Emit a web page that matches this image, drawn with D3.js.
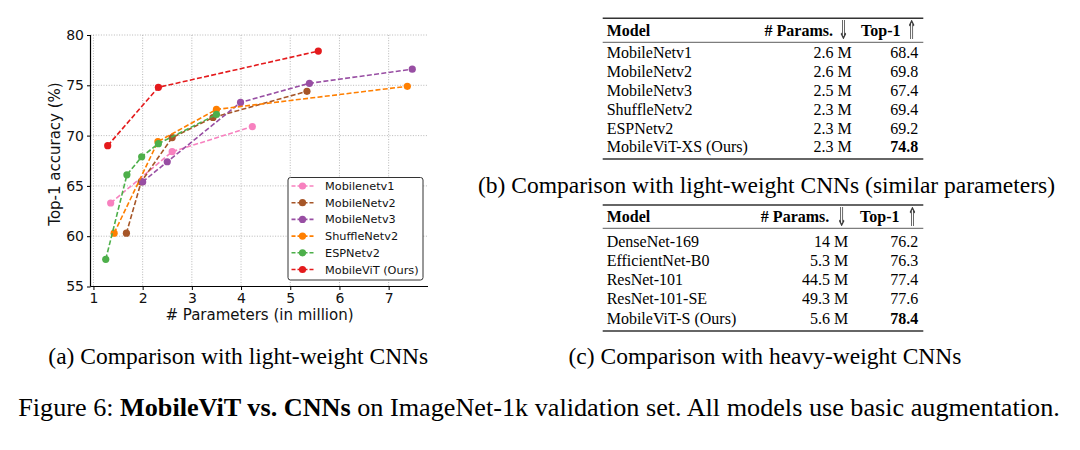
<!DOCTYPE html>
<html><head><meta charset="utf-8">
<script src="https://cdn.jsdelivr.net/npm/d3@7/dist/d3.min.js"></script>
<style>body{margin:0;background:#fff} svg{display:block}</style>
</head><body><svg id="fig" width="1080" height="450"></svg>
<script>
// ---------- data ----------
const seriesNames = ["Mobilenetv1","MobileNetv2","MobileNetv3","ShuffleNetv2","ESPNetv2","MobileViT (Ours)"];
const seriesColors = ["#f781bf","#a65628","#984ea3","#ff7f00","#4daf4a","#e41a1c"];
const mobilenetv1Params = [1.35, 2.6, 4.23];
const mobilenetv1Top1   = [63.3, 68.4, 70.9];
const mobilenetv2Params = [1.67, 1.97, 2.6, 3.43, 5.34];
const mobilenetv2Top1   = [60.3, 65.4, 69.8, 71.8, 74.4];
const mobilenetv3Params = [2.0, 2.5, 3.99, 5.39, 7.48];
const mobilenetv3Top1   = [65.4, 67.4, 73.3, 75.2, 76.6];
const shufflenetv2Params = [1.42, 2.31, 3.5, 7.38];
const shufflenetv2Top1   = [60.3, 69.4, 72.6, 74.9];
const espnetv2Params = [1.25, 1.68, 1.98, 2.32, 3.5];
const espnetv2Top1   = [57.7, 66.1, 67.9, 69.2, 72.1];
const mobilevitParams = [1.29, 2.32, 5.57];
const mobilevitTop1   = [69.0, 74.8, 78.4];
const xTicks = [1,2,3,4,5,6,7];
const yTicks = [55,60,65,70,75,80];
const xLabel = "# Parameters (in million)";
const yLabel = "Top-1 accuracy (%)";

const tableHeader = ["Model", "# Params.", "Top-1"];
const tableBModels = ["MobileNetv1","MobileNetv2","MobileNetv3","ShuffleNetv2","ESPNetv2","MobileViT-XS (Ours)"];
const tableBParams = ["2.6 M","2.6 M","2.5 M","2.3 M","2.3 M","2.3 M"];
const tableBTop1   = ["68.4","69.8","67.4","69.4","69.2","74.8"];
const tableCModels = ["DenseNet-169","EfficientNet-B0","ResNet-101","ResNet-101-SE","MobileViT-S (Ours)"];
const tableCParams = ["14 M","5.3 M","44.5 M","49.3 M","5.6 M"];
const tableCTop1   = ["76.2","76.3","77.4","77.6","78.4"];

const captionA = "(a) Comparison with light-weight CNNs";
const captionB = "(b) Comparison with light-weight CNNs (similar parameters)";
const captionC = "(c) Comparison with heavy-weight CNNs";
const figCaptionParts = [["Figure 6: ", false], ["MobileViT vs. CNNs", true], [" on ImageNet-1k validation set. All models use basic augmentation.", false]];

const seriesX = [mobilenetv1Params, mobilenetv2Params, mobilenetv3Params, shufflenetv2Params, espnetv2Params, mobilevitParams];
const seriesY = [mobilenetv1Top1, mobilenetv2Top1, mobilenetv3Top1, shufflenetv2Top1, espnetv2Top1, mobilevitTop1];
const series = seriesNames.map((n,i)=>({name:n, color:seriesColors[i], pts: seriesX[i].map((x,j)=>({x, y:seriesY[i][j]}))}));

// ---------- chart ----------
const svg = d3.select("#fig");
const sans = "DejaVu Sans";
const serif = "Liberation Serif";
const defs = svg.append("defs");
const gray = defs.append("filter").attr("id", "gray").attr("x", "-50%").attr("y", "-50%").attr("width", "200%").attr("height", "200%");
gray.append("feColorMatrix").attr("type", "saturate").attr("values", 0);

const x = d3.scaleLinear().domain([0.94, 7.8]).range([90.5, 428]);
const y = d3.scaleLinear().domain([55, 80]).range([286.5, 35]);

const g = svg.append("g");
// grid
g.append("g").selectAll("line").data(xTicks).join("line")
  .attr("x1", d=>x(d)).attr("x2", d=>x(d)).attr("y1", y(80)).attr("y2", y(55))
  .attr("stroke", "#b0b0b0").attr("stroke-width", 0.9).attr("stroke-dasharray", "1,1.6");
g.append("g").selectAll("line").data(yTicks).join("line")
  .attr("x1", x.range()[0]).attr("x2", x.range()[1]).attr("y1", d=>y(d)).attr("y2", d=>y(d))
  .attr("stroke", "#b0b0b0").attr("stroke-width", 0.9).attr("stroke-dasharray", "1,1.6");

// axes
const xAxis = d3.axisBottom(x).tickValues(xTicks).tickSize(3.5).tickPadding(3).tickFormat(d3.format("d"));
const yAxis = d3.axisLeft(y).tickValues(yTicks).tickSize(3.5).tickPadding(3).tickFormat(d3.format("d"));
const gx = g.append("g").attr("transform", `translate(0,${y(55)})`).call(xAxis);
const gy = g.append("g").attr("transform", `translate(${x.range()[0]},0)`).call(yAxis);
[gx, gy].forEach(a => {
  a.select(".domain").attr("stroke", "#000").attr("stroke-width", 1.2);
  a.selectAll(".tick line").attr("stroke", "#000").attr("stroke-width", 1);
  a.selectAll(".tick text").attr("font-family", sans).attr("font-size", 14).attr("fill", "#111");
});
gx.select(".domain").attr("d", `M${x.range()[0]},0H${x.range()[1]}`);
gy.select(".domain").attr("d", `M0,${y(55)}V${y(80)}`);

g.append("text").attr("x", 259.5).attr("y", 320).attr("text-anchor", "middle")
  .attr("font-family", sans).attr("font-size", 15).attr("fill", "#111").text(xLabel);
g.append("text").attr("transform", `translate(60,154) rotate(-90)`).attr("text-anchor", "middle")
  .attr("font-family", sans).attr("font-size", 15).attr("fill", "#111").text(yLabel);

// series
const line = d3.line().x(d=>x(d.x)).y(d=>y(d.y));
const sg = g.append("g").selectAll("g").data(series).join("g");
sg.append("path").attr("d", d=>line(d.pts)).attr("fill", "none").attr("stroke", d=>d.color)
  .attr("stroke-width", 1.6).attr("stroke-dasharray", "5,2.3");
sg.selectAll("circle").data(d=>d.pts.map(p=>({...p, color:d.color}))).join("circle")
  .attr("cx", d=>x(d.x)).attr("cy", d=>y(d.y)).attr("r", 3.6).attr("fill", d=>d.color);

// legend
const lg = g.append("g");
lg.append("rect").attr("x", 288).attr("y", 177.5).attr("width", 135).attr("height", 102.5).attr("rx", 2.5)
  .attr("fill", "#fff").attr("stroke", "#333").attr("stroke-width", 1);
const li = lg.selectAll("g.item").data(series).join("g").attr("class", "item")
  .attr("transform", (d,i)=>`translate(0,${186 + i*16.7})`);
li.append("line").attr("x1", 291.5).attr("x2", 313.5).attr("stroke", d=>d.color).attr("stroke-width", 1.6).attr("stroke-dasharray", "4,2");
li.append("circle").attr("cx", 302.5).attr("r", 3.6).attr("fill", d=>d.color);
li.append("text").attr("x", 325).attr("y", 4).attr("font-family", sans).attr("font-size", 11.3).attr("fill", "#111").text(d=>d.name);

// ---------- tables ----------
function drawTable(cfg) {
  const t = svg.append("g");
  const rule = (yy, w) => t.append("line").attr("x1", 602.7).attr("x2", 923.3).attr("y1", yy).attr("y2", yy).attr("stroke", "#333").attr("stroke-width", w);
  rule(cfg.top, 1.4); rule(cfg.mid, 0.8); rule(cfg.bottom, 1.4);
  const hb = cfg.headBase;
  t.append("text").attr("x", 606.7).attr("y", hb).attr("font-family", serif).attr("font-weight", "bold").attr("font-size", 16).text(tableHeader[0]);
  t.append("text").attr("x", cfg.paramsHeadEnd).attr("y", hb).attr("text-anchor", "end").attr("font-family", serif).attr("font-weight", "bold").attr("font-size", 16).text(tableHeader[1]);
  t.append("text").attr("x", cfg.topHeadEnd).attr("y", hb).attr("text-anchor", "end").attr("font-family", serif).attr("font-weight", "bold").attr("font-size", 16).text(tableHeader[2]);
  const ag = t.append("g").attr("filter", "url(#gray)");
  ag.append("text").attr("transform", `translate(${cfg.downArrow},${hb+3.5}) scale(0.5,1)`).attr("text-anchor", "middle").attr("font-family", sans).attr("font-size", 26).attr("fill", "#3a3a3a").text("⇓");
  ag.append("text").attr("transform", `translate(${cfg.upArrow},${hb+3.5}) scale(0.5,1)`).attr("text-anchor", "middle").attr("font-family", sans).attr("font-size", 26).attr("fill", "#3a3a3a").text("⇑");
  cfg.models.forEach((m,i) => {
    const yy = cfg.rowBase + i*cfg.rowStep;
    t.append("text").attr("x", 606.7).attr("y", yy).attr("font-family", serif).attr("font-size", 16).text(m);
    t.append("text").attr("x", cfg.paramsRight).attr("y", yy).attr("text-anchor", "end").attr("font-family", serif).attr("font-size", 16).text(cfg.params[i]);
    t.append("text").attr("x", 918.3).attr("y", yy).attr("text-anchor", "end").attr("font-family", serif).attr("font-size", 16)
      .attr("font-weight", i === cfg.models.length-1 ? "bold" : "normal").text(cfg.top1[i]);
  });
}
drawTable({top:18.3, mid:42.3, bottom:159, headBase:35.5, rowBase:58.3, rowStep:18.8,
  paramsHeadEnd:833, topHeadEnd:900.5, downArrow:843.5, upArrow:911.7, paramsRight:851.7,
  models:tableBModels, params:tableBParams, top1:tableBTop1});
drawTable({top:205, mid:228.3, bottom:331, headBase:222.3, rowBase:246.7, rowStep:19.2,
  paramsHeadEnd:829.3, topHeadEnd:899.5, downArrow:841.7, upArrow:912.5, paramsRight:848.3,
  models:tableCModels, params:tableCParams, top1:tableCTop1});

// ---------- captions ----------
svg.append("text").attr("x", 238.3).attr("y", 364).attr("text-anchor", "middle").attr("font-family", serif).attr("font-size", 23.5).text(captionA);
svg.append("text").attr("x", 766.5).attr("y", 192.5).attr("text-anchor", "middle").attr("font-family", serif).attr("font-size", 23.5).text(captionB);
svg.append("text").attr("x", 765).attr("y", 364).attr("text-anchor", "middle").attr("font-family", serif).attr("font-size", 23.5).text(captionC);
const fc = svg.append("text").attr("x", 539).attr("y", 416).attr("text-anchor", "middle").attr("font-family", serif).attr("font-size", 26.2);
figCaptionParts.forEach(([s,b]) => fc.append("tspan").attr("font-weight", b ? "bold" : "normal").text(s));
</script></body></html>
